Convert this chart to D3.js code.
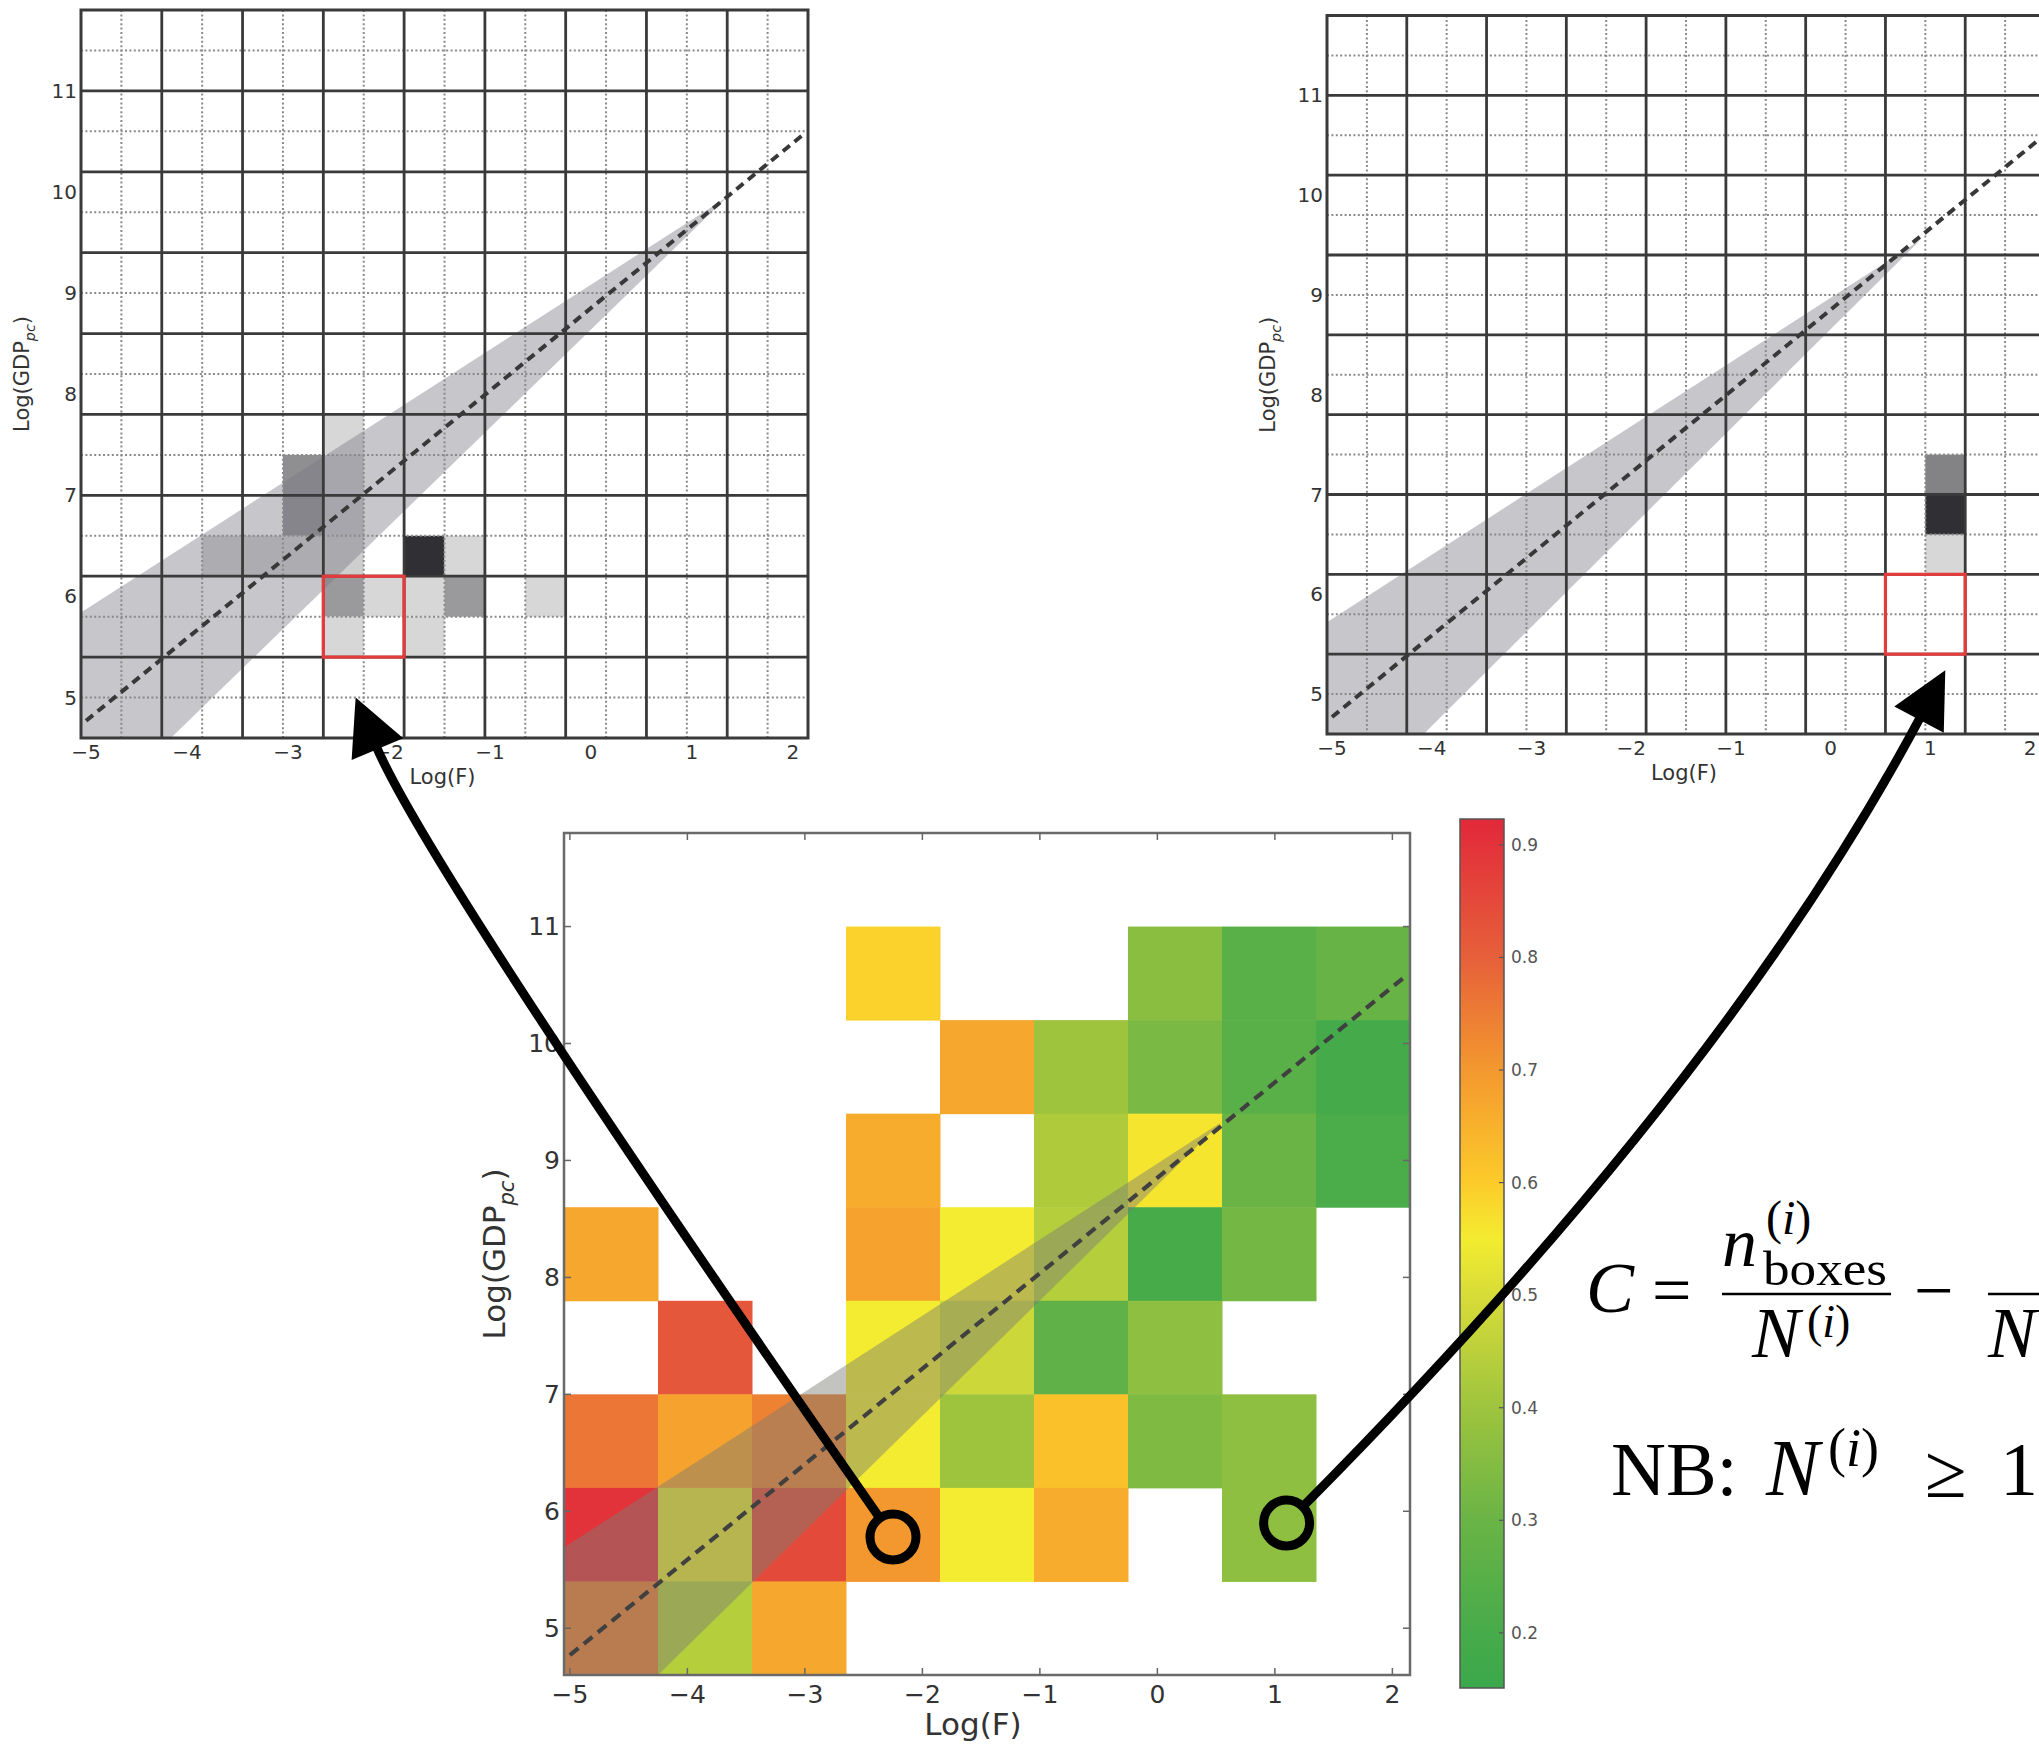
<!DOCTYPE html>
<html>
<head>
<meta charset="utf-8">
<script src="https://cdn.jsdelivr.net/npm/d3@7"></script>
<style>
  body { margin: 0; background: #fff; }
  svg { display: block; }
</style>
</head>
<body>
<svg id="fig" width="2039" height="1744"></svg>
<script>
// bin edges and centres (Log(F) on x, Log(GDP_pc) on y)
const xEdges = [-5.05, -4.25, -3.45, -2.65, -1.85, -1.05, -0.25, 0.55, 1.35, 2.15];
const yEdges = [4.6, 5.4, 6.2, 7.0, 7.8, 8.6, 9.4, 10.2, 11.0, 11.8];
const xCentres = [-4.65, -3.85, -3.05, -2.25, -1.45, -0.65, 0.15, 0.95, 1.75];
const yCentres = [5.0, 5.8, 6.6, 7.4, 8.2, 9.0, 9.8, 10.6, 11.4];
const xTicks = [-5, -4, -3, -2, -1, 0, 1, 2];
const yTicks = [5, 6, 7, 8, 9, 10, 11];
const cbTicks = [0.2, 0.3, 0.4, 0.5, 0.6, 0.7, 0.8, 0.9];
const cbDomain = [0.151, 0.923];

// complexity C per coarse cell, rows from the top (11.0-11.8) down to 4.6-5.4
const complexity = [
  [null, null, null, null, null, null, null, null, null],
  [null, null, null, 0.59, null, null, 0.36, 0.25, 0.29],
  [null, null, null, null, 0.67, 0.40, 0.33, 0.25, 0.19],
  [null, null, null, 0.66, null, 0.43, 0.56, 0.30, 0.21],
  [0.67, null, null, 0.68, 0.55, 0.44, 0.20, 0.32, null],
  [null, 0.82, null, 0.55, 0.48, 0.27, 0.37, null, null],
  [0.76, 0.68, 0.74, 0.55, 0.40, 0.62, 0.34, 0.37, null],
  [0.90, 0.53, 0.85, 0.70, 0.55, 0.66, null, 0.37, null],
  [0.75, 0.44, 0.67, null, null, null, null, null, null]
];

// occupied fine boxes (half bin wide): [column, row, shade]
const boxesLeft = [
  [6, 7, 0.18],
  [5, 6, 0.5], [5, 5, 0.5], [6, 6, 0.24], [6, 5, 0.24],
  [3, 4, 0.2], [4, 4, 0.2], [5, 4, 0.2], [6, 4, 0.22], [8, 4, 0.92], [9, 4, 0.18],
  [6, 3, 0.45], [7, 3, 0.18], [8, 3, 0.18], [9, 3, 0.45], [11, 3, 0.18],
  [6, 2, 0.18], [8, 2, 0.18]
];
const boxesRight = [[15, 4, 0.18], [15, 5, 0.92], [15, 6, 0.55]];

// highlighted coarse cell: [column, row from bottom]
const redLeft = [3, 1];
const redRight = [7, 1];

const fitLine = [[-5.0, 4.77], [2.13, 10.59]];
const bandLeft = [[-5.05, 5.84], [1.35, 9.95], [-4.16, 4.6], [-5.05, 4.6]];
const bandRight = [[-5.05, 5.72], [0.9, 9.55], [-4.08, 4.6], [-5.05, 4.6]];
const bandColour = [[-5.05, 5.69], [0.55, 9.33], [-4.25, 4.6], [-5.05, 4.6]];

const circleLeft = [-2.25, 5.78];
const circleRight = [1.1, 5.9];
const tipLeft = [-2.33, 5.0];
const tipRight = [1.15, 5.24];

const cmapStops = [0.15, 0.2, 0.3, 0.4, 0.5, 0.55, 0.6, 0.7, 0.8, 0.925];
const cmapColours = ["#3aa84b", "#47ab4a", "#6ab446", "#9ec43e", "#d8dc38",
                     "#f3ec30", "#fccb2a", "#f3982f", "#e6603a", "#e2283a"];

const svg = d3.select("#fig");
const defs = svg.append("defs");
const sans = "DejaVu Sans, sans-serif";
const serif = "Liberation Serif, DejaVu Serif, serif";

const colour = d3.scaleLinear().domain(cmapStops).range(cmapColours).clamp(true);
const grey = v => d3.interpolateRgb("#ffffff", "#1e1e22")(v);
const line = d3.line();

function yLabel(g, x, y, size) {
  const t = g.append("text")
    .attr("transform", `translate(${x},${y}) rotate(-90)`)
    .attr("text-anchor", "middle")
    .attr("font-family", sans).attr("font-size", size).attr("fill", "#333");
  t.append("tspan").text("Log(GDP");
  t.append("tspan").attr("dy", size * 0.3).attr("font-size", size * 0.68)
    .attr("font-style", "italic").text("pc");
  t.append("tspan").attr("dy", -size * 0.3).text(")");
}

function greyPanel(id, x, y, boxes, band, red) {
  const [x0, x1] = x.range(), [y1, y0] = y.range();
  defs.append("clipPath").attr("id", id).append("rect")
    .attr("x", x0).attr("y", y0).attr("width", x1 - x0).attr("height", y1 - y0);
  const g = svg.append("g");
  const inner = g.append("g").attr("clip-path", `url(#${id})`);
  const half = (xEdges[1] - xEdges[0]) / 2;

  inner.selectAll("rect.box").data(boxes).join("rect")
    .attr("x", d => x(xEdges[0] + half * d[0]))
    .attr("y", d => y(yEdges[0] + half * (d[1] + 1)))
    .attr("width", d => x(xEdges[0] + half * (d[0] + 1)) - x(xEdges[0] + half * d[0]))
    .attr("height", d => y(yEdges[0] + half * d[1]) - y(yEdges[0] + half * (d[1] + 1)))
    .attr("fill", d => grey(d[2]));

  inner.append("path")
    .attr("d", line(band.map(p => [x(p[0]), y(p[1])])) + "Z")
    .attr("fill", "rgba(118,120,130,0.42)");

  // dotted grid at bin centres
  inner.selectAll("line.vd").data(xCentres).join("line")
    .attr("x1", d => x(d)).attr("x2", d => x(d)).attr("y1", y0).attr("y2", y1)
    .attr("stroke", "#8a8a8a").attr("stroke-width", 2).attr("stroke-dasharray", "2,2.4");
  inner.selectAll("line.hd").data(yCentres).join("line")
    .attr("y1", d => y(d)).attr("y2", d => y(d)).attr("x1", x0).attr("x2", x1)
    .attr("stroke", "#8a8a8a").attr("stroke-width", 2).attr("stroke-dasharray", "2,2.4");
  // solid grid at bin edges
  inner.selectAll("line.vs").data(xEdges.slice(1, -1)).join("line")
    .attr("x1", d => x(d)).attr("x2", d => x(d)).attr("y1", y0).attr("y2", y1)
    .attr("stroke", "#3a3a3a").attr("stroke-width", 2.8);
  inner.selectAll("line.hs").data(yEdges.slice(1, -1)).join("line")
    .attr("y1", d => y(d)).attr("y2", d => y(d)).attr("x1", x0).attr("x2", x1)
    .attr("stroke", "#3a3a3a").attr("stroke-width", 2.8);

  inner.append("path")
    .attr("d", line(fitLine.map(p => [x(p[0]), y(p[1])])))
    .attr("stroke", "#383838").attr("stroke-width", 4).attr("stroke-dasharray", "9,6")
    .attr("fill", "none");

  g.append("rect")
    .attr("x", x(xEdges[red[0]])).attr("y", y(yEdges[red[1] + 1]))
    .attr("width", x(xEdges[red[0] + 1]) - x(xEdges[red[0]]))
    .attr("height", y(yEdges[red[1]]) - y(yEdges[red[1] + 1]))
    .attr("fill", "none").attr("stroke", "#e23c3c").attr("stroke-width", 3.2);

  g.append("rect").attr("x", x0).attr("y", y0).attr("width", x1 - x0).attr("height", y1 - y0)
    .attr("fill", "none").attr("stroke", "#3a3a3a").attr("stroke-width", 3);

  g.selectAll("text.xt").data(xTicks).join("text")
    .attr("x", d => x(d)).attr("y", y1 + 21).attr("text-anchor", "middle")
    .attr("font-family", sans).attr("font-size", 20).attr("fill", "#333")
    .text(d => d < 0 ? "\u2212" + Math.abs(d) : d);
  g.selectAll("text.yt").data(yTicks).join("text")
    .attr("x", x0 - 4).attr("y", d => y(d)).attr("dy", "0.35em").attr("text-anchor", "end")
    .attr("font-family", sans).attr("font-size", 20).attr("fill", "#333")
    .text(d => d);

  g.append("text").attr("x", (x0 + x(2.15)) / 2 - 2).attr("y", y1 + 46).attr("text-anchor", "middle")
    .attr("font-family", sans).attr("font-size", 21).attr("fill", "#333").text("Log(F)");
  yLabel(g, x0 - 52, (y0 + y1) / 2, 21);
}

const xL = d3.scaleLinear().domain([xEdges[0], xEdges[9]]).range([81, 808]);
const yL = d3.scaleLinear().domain([yEdges[0], yEdges[9]]).range([738, 10]);
const xR = d3.scaleLinear().domain([xEdges[0], xEdges[9]]).range([1327, 2045]);
const yR = d3.scaleLinear().domain([yEdges[0], yEdges[9]]).range([734, 15.5]);

greyPanel("clipL", xL, yL, boxesLeft, bandLeft, redLeft);
greyPanel("clipR", xR, yR, boxesRight, bandRight, redRight);

// colour panel
const xC = d3.scaleLinear().domain([xEdges[0], xEdges[9]]).range([564, 1410]);
const yC = d3.scaleLinear().domain([yEdges[0], yEdges[9]]).range([1675, 833]);
const gc = svg.append("g");
defs.append("clipPath").attr("id", "clipC").append("rect")
  .attr("x", 564).attr("y", 833).attr("width", 846).attr("height", 842);
const ic = gc.append("g").attr("clip-path", "url(#clipC)");

const cells = [];
complexity.forEach((row, r) => row.forEach((v, c) => {
  if (v !== null) cells.push({ c, r: 8 - r, v });
}));
ic.selectAll("rect.cell").data(cells).join("rect")
  .attr("x", d => xC(xEdges[d.c]))
  .attr("y", d => yC(yEdges[d.r + 1]))
  .attr("width", d => xC(xEdges[d.c + 1]) - xC(xEdges[d.c]) + 0.5)
  .attr("height", d => yC(yEdges[d.r]) - yC(yEdges[d.r + 1]) + 0.5)
  .attr("fill", d => colour(d.v));

ic.append("path")
  .attr("d", line(bandColour.map(p => [xC(p[0]), yC(p[1])])) + "Z")
  .attr("fill", "rgba(124,124,116,0.46)");
ic.append("path")
  .attr("d", line(fitLine.map(p => [xC(p[0]), yC(p[1])])))
  .attr("stroke", "#404040").attr("stroke-width", 4.2).attr("stroke-dasharray", "11,7")
  .attr("fill", "none");

gc.append("rect").attr("x", 564).attr("y", 833).attr("width", 846).attr("height", 842)
  .attr("fill", "none").attr("stroke", "#6a6a6a").attr("stroke-width", 2.5);
// inward ticks on all four sides
gc.selectAll("line.xtb").data(xTicks).join("line")
  .attr("x1", d => xC(d)).attr("x2", d => xC(d)).attr("y1", 1675).attr("y2", 1668)
  .attr("stroke", "#666").attr("stroke-width", 1.5);
gc.selectAll("line.xtt").data(xTicks).join("line")
  .attr("x1", d => xC(d)).attr("x2", d => xC(d)).attr("y1", 833).attr("y2", 840)
  .attr("stroke", "#666").attr("stroke-width", 1.5);
gc.selectAll("line.ytl").data(yTicks).join("line")
  .attr("y1", d => yC(d)).attr("y2", d => yC(d)).attr("x1", 564).attr("x2", 571)
  .attr("stroke", "#666").attr("stroke-width", 1.5);
gc.selectAll("line.ytr").data(yTicks).join("line")
  .attr("y1", d => yC(d)).attr("y2", d => yC(d)).attr("x1", 1410).attr("x2", 1403)
  .attr("stroke", "#666").attr("stroke-width", 1.5);

gc.selectAll("text.xt").data(xTicks).join("text")
  .attr("x", d => xC(d)).attr("y", 1703).attr("text-anchor", "middle")
  .attr("font-family", sans).attr("font-size", 25).attr("fill", "#333")
  .text(d => d < 0 ? "\u2212" + Math.abs(d) : d);
gc.selectAll("text.yt").data(yTicks).join("text")
  .attr("x", 560).attr("y", d => yC(d)).attr("dy", "0.35em").attr("text-anchor", "end")
  .attr("font-family", sans).attr("font-size", 25).attr("fill", "#333")
  .text(d => d);
gc.append("text").attr("x", 973).attr("y", 1735).attr("text-anchor", "middle")
  .attr("font-family", sans).attr("font-size", 31).attr("fill", "#333").text("Log(F)");
yLabel(gc, 505, 1254, 31);

// colour bar
const cbY = d3.scaleLinear().domain(cbDomain).range([1688, 819]);
const grad = defs.append("linearGradient").attr("id", "cbGrad")
  .attr("x1", 0).attr("y1", 1).attr("x2", 0).attr("y2", 0);
grad.selectAll("stop").data(cmapStops).join("stop")
  .attr("offset", d => Math.max(0, (d - cbDomain[0]) / (cbDomain[1] - cbDomain[0])))
  .attr("stop-color", d => colour(d));
gc.append("rect").attr("x", 1460).attr("y", 819).attr("width", 44).attr("height", 869)
  .attr("fill", "url(#cbGrad)").attr("stroke", "#555").attr("stroke-width", 1.5);
gc.selectAll("line.cbt").data(cbTicks).join("line")
  .attr("x1", 1504).attr("x2", 1499).attr("y1", d => cbY(d)).attr("y2", d => cbY(d))
  .attr("stroke", "#555").attr("stroke-width", 1.2);
gc.selectAll("text.cbt").data(cbTicks).join("text")
  .attr("x", 1511).attr("y", d => cbY(d)).attr("dy", "0.35em")
  .attr("font-family", sans).attr("font-size", 17).attr("fill", "#555")
  .text(d => d.toFixed(1));

// formula
const fm = svg.append("g").attr("font-family", serif).attr("fill", "#000");
function paren(x, y, size) {
  const t = fm.append("text").attr("x", x).attr("y", y).attr("font-size", size);
  t.append("tspan").text("(");
  t.append("tspan").attr("font-style", "italic").text("i");
  t.append("tspan").text(")");
}
function afterN(n, gap) {
  const bb = n.node().getBBox();
  return bb.x + bb.width + gap;
}
fm.append("text").attr("x", 1586).attr("y", 1312).attr("font-size", 72)
  .attr("font-style", "italic").text("C");
fm.append("text").attr("x", 1652).attr("y", 1314).attr("font-size", 70).text("=");
fm.append("line").attr("x1", 1722).attr("x2", 1891).attr("y1", 1294).attr("y2", 1294)
  .attr("stroke", "#000").attr("stroke-width", 2.5);
fm.append("text").attr("x", 1722).attr("y", 1266).attr("font-size", 70)
  .attr("font-style", "italic").text("n");
paren(1766, 1234, 48);
fm.append("text").attr("x", 1763).attr("y", 1285).attr("font-size", 48)
  .attr("textLength", 124).attr("lengthAdjust", "spacingAndGlyphs").text("boxes");
const nDen = fm.append("text").attr("x", 1752).attr("y", 1357).attr("font-size", 72)
  .attr("font-style", "italic").text("N");
paren(afterN(nDen, 3), 1337, 46);
fm.append("text").attr("x", 1914).attr("y", 1314).attr("font-size", 70).text("\u2212");
fm.append("line").attr("x1", 1988).attr("x2", 2039).attr("y1", 1294).attr("y2", 1294)
  .attr("stroke", "#000").attr("stroke-width", 2.5);
fm.append("text").attr("x", 1988).attr("y", 1357).attr("font-size", 72)
  .attr("font-style", "italic").text("N");

fm.append("text").attr("x", 1611).attr("y", 1495).attr("font-size", 76).text("NB:");
const nNB = fm.append("text").attr("x", 1766).attr("y", 1495).attr("font-size", 80)
  .attr("font-style", "italic").text("N");
paren(afterN(nNB, 4), 1466, 54);
fm.append("text").attr("x", 1925).attr("y", 1497).attr("font-size", 76).text("\u2265");
fm.append("text").attr("x", 2000).attr("y", 1495).attr("font-size", 76).text("1");

// arrows from the colour map cells up to the highlighted boxes
function arrow(centre, ctrl, tip) {
  const r = 23;
  let dx = ctrl[0] - centre[0], dy = ctrl[1] - centre[1];
  let n = Math.hypot(dx, dy);
  const start = [centre[0] + r * dx / n, centre[1] + r * dy / n];
  dx = tip[0] - ctrl[0]; dy = tip[1] - ctrl[1]; n = Math.hypot(dx, dy);
  const ux = dx / n, uy = dy / n, L = 56, Wd = 28;
  const base = [tip[0] - ux * L, tip[1] - uy * L];
  const p = d3.path();
  p.moveTo(start[0], start[1]);
  p.quadraticCurveTo(ctrl[0], ctrl[1], base[0] + ux * 4, base[1] + uy * 4);
  svg.append("path").attr("d", p.toString()).attr("fill", "none")
    .attr("stroke", "#000").attr("stroke-width", 9);
  svg.append("path")
    .attr("d", line([tip, [base[0] - uy * Wd, base[1] + ux * Wd], [base[0] + uy * Wd, base[1] - ux * Wd]]) + "Z")
    .attr("fill", "#000");
  svg.append("circle").attr("cx", centre[0]).attr("cy", centre[1]).attr("r", r)
    .attr("fill", "none").attr("stroke", "#000").attr("stroke-width", 9);
}
arrow([xC(circleLeft[0]), yC(circleLeft[1])], [428, 869], [xL(tipLeft[0]), yL(tipLeft[1])]);
arrow([xC(circleRight[0]), yC(circleRight[1])], [1730, 1076], [xR(tipRight[0]), yR(tipRight[1])]);
</script>
</body>
</html>
